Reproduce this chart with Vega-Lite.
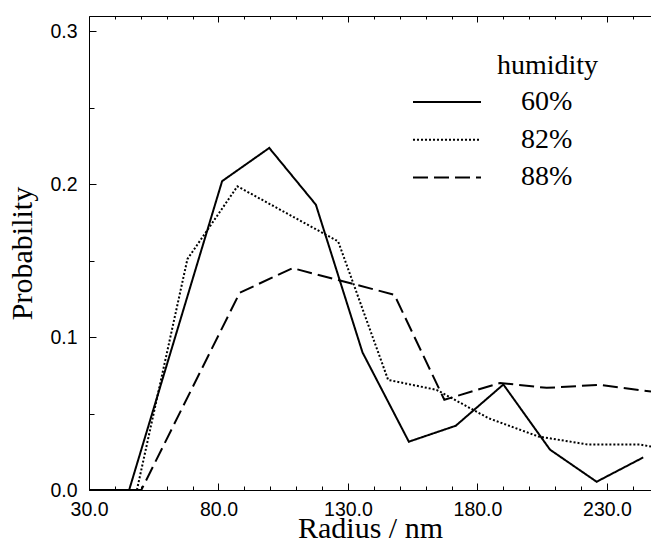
{
  "$schema": "https://vega.github.io/schema/vega-lite/v6.json",
  "width": 562,
  "height": 474,
  "autosize": "none",
  "padding": {"left": 89, "top": 16, "right": 0, "bottom": 52},
  "background": "white",
  "config": {
    "view": {"stroke": null},
    "axis": {
      "domainColor": "black",
      "domainWidth": 1,
      "tickColor": "black",
      "tickWidth": 1,
      "labelColor": "black",
      "labelFont": "Liberation Sans",
      "labelFontSize": 19.5,
      "titleFont": "Liberation Serif",
      "titleFontWeight": "normal",
      "titleFontSize": 30,
      "titleColor": "black",
      "grid": false
    }
  },
  "data": {
    "values": [
      {"r": 30, "p": 0, "h": "60%"},
      {"r": 45.5, "p": 0, "h": "60%"},
      {"r": 81.4, "p": 0.202, "h": "60%"},
      {"r": 99.6, "p": 0.2237, "h": "60%"},
      {"r": 117.6, "p": 0.1866, "h": "60%"},
      {"r": 135.6, "p": 0.09, "h": "60%"},
      {"r": 153.5, "p": 0.0316, "h": "60%"},
      {"r": 171.6, "p": 0.042, "h": "60%"},
      {"r": 190, "p": 0.069, "h": "60%"},
      {"r": 208, "p": 0.0264, "h": "60%"},
      {"r": 226, "p": 0.0054, "h": "60%"},
      {"r": 244, "p": 0.0213, "h": "60%"},
      {"r": 30, "p": 0, "h": "82%"},
      {"r": 48.5, "p": 0, "h": "82%"},
      {"r": 68, "p": 0.151, "h": "82%"},
      {"r": 87.3, "p": 0.1986, "h": "82%"},
      {"r": 126.2, "p": 0.1626, "h": "82%"},
      {"r": 145.5, "p": 0.072, "h": "82%"},
      {"r": 164.2, "p": 0.0655, "h": "82%"},
      {"r": 184.2, "p": 0.047, "h": "82%"},
      {"r": 203.5, "p": 0.035, "h": "82%"},
      {"r": 222.8, "p": 0.0297, "h": "82%"},
      {"r": 242.8, "p": 0.0297, "h": "82%"},
      {"r": 247, "p": 0.0284, "h": "82%"},
      {"r": 30, "p": 0, "h": "88%"},
      {"r": 50.2, "p": 0, "h": "88%"},
      {"r": 88.2, "p": 0.129, "h": "88%"},
      {"r": 108.6, "p": 0.1451, "h": "88%"},
      {"r": 147.9, "p": 0.1277, "h": "88%"},
      {"r": 167.2, "p": 0.059, "h": "88%"},
      {"r": 188.7, "p": 0.07, "h": "88%"},
      {"r": 206.7, "p": 0.0668, "h": "88%"},
      {"r": 227.3, "p": 0.0688, "h": "88%"},
      {"r": 247, "p": 0.0644, "h": "88%"}
    ]
  },
  "layer": [
    {
      "mark": {"type": "line", "clip": true, "color": "black", "strokeWidth": 2},
      "encoding": {
        "x": {
          "field": "r",
          "type": "quantitative",
          "scale": {"domain": [30, 247], "nice": false, "zero": false},
          "axis": {
            "orient": "bottom",
            "title": "Radius / nm",
            "values": [30, 80, 130, 180, 230],
            "format": ".1f",
            "tickSize": -7,
            "labelPadding": 17,
            "labelFlush": false,
            "labelOverlap": false,
            "titlePadding": -5
          }
        },
        "y": {
          "field": "p",
          "type": "quantitative",
          "scale": {"domain": [0, 0.31], "nice": false},
          "axis": {
            "orient": "left",
            "title": "Probability",
            "values": [0, 0.1, 0.2, 0.3],
            "format": ".1f",
            "tickSize": -7,
            "labelPadding": 19,
            "labelFlush": false,
            "labelOverlap": false,
            "titlePadding": 12
          }
        },
        "strokeDash": {
          "field": "h",
          "type": "nominal",
          "scale": {"domain": ["60%", "82%", "88%"], "range": [[1, 0], [2, 2], [15, 6]]},
          "legend": {
            "title": "humidity",
            "orient": "none",
            "legendX": 408,
            "legendY": 36,
            "titleFont": "Liberation Serif",
            "titleFontSize": 28,
            "titleFontWeight": "normal",
            "titleColor": "black",
            "titleAnchor": "start",
            "titleAlign": "left",
            "titlePadding": 8,
            "labelFont": "Liberation Serif",
            "labelFontSize": 28,
            "labelColor": "black",
            "labelOffset": -4,
            "symbolType": "M-9.8,0H-3.0",
            "symbolSize": 400,
            "symbolStrokeWidth": 2,
            "symbolStrokeColor": "black",
            "rowPadding": 9.7
          }
        }
      }
    },
    {
      "mark": {"type": "point", "opacity": 0},
      "encoding": {
        "x": {
          "field": "r",
          "type": "quantitative",
          "axis": {
            "orient": "bottom",
            "title": null,
            "values": [40, 50, 60, 70, 90, 100, 110, 120, 140, 150, 160, 170, 190, 200, 210, 220, 240],
            "labels": false,
            "domain": false,
            "tickSize": -4
          }
        },
        "y": {
          "field": "p",
          "type": "quantitative",
          "axis": {
            "orient": "left",
            "title": null,
            "values": [0.05, 0.15, 0.25],
            "labels": false,
            "domain": false,
            "tickSize": -5
          }
        }
      }
    },
    {
      "mark": {"type": "point", "opacity": 0},
      "encoding": {
        "x": {
          "field": "r",
          "type": "quantitative",
          "axis": {
            "orient": "top",
            "title": null,
            "values": [30, 80, 130, 180, 230],
            "labels": false,
            "tickSize": -6
          }
        }
      }
    },
    {
      "mark": {"type": "point", "opacity": 0},
      "encoding": {
        "x": {
          "field": "r",
          "type": "quantitative",
          "axis": {
            "orient": "top",
            "title": null,
            "values": [40, 50, 60, 70, 90, 100, 110, 120, 140, 150, 160, 170, 190, 200, 210, 220, 240],
            "labels": false,
            "domain": false,
            "tickSize": -3
          }
        }
      }
    }
  ],
  "resolve": {"axis": {"x": "independent", "y": "independent"}}
}
